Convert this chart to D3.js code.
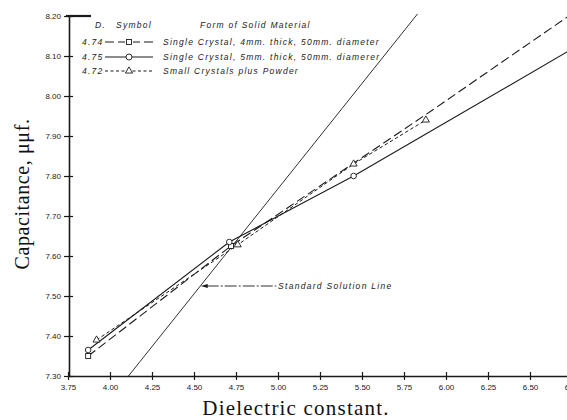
<!DOCTYPE html>
<html>
<head>
<meta charset="utf-8">
<script src="https://cdn.jsdelivr.net/npm/d3@7/dist/d3.min.js"></script>
<style>
    body { margin: 0; background: #fff; }
    svg { display: block; }
    .axis text { font-family: "Liberation Sans", Arial, sans-serif; font-size: 8px; fill: #222; }
    .legend text { font-family: "Liberation Sans", Arial, sans-serif; font-style: italic; font-size: 8.5px; letter-spacing: 1.25px; fill: #222; }
    .title { font-family: "Liberation Serif", "Times New Roman", serif; fill: #111; }
</style>
</head>
<body>
<div id="chart"></div>
<script>
// axis ticks
const xTicks = [3.75, 4.00, 4.25, 4.50, 4.75, 5.00, 5.25, 5.50, 5.75, 6.00, 6.25, 6.50, 6.75];
const yTicks = [7.30, 7.40, 7.50, 7.60, 7.70, 7.80, 7.90, 8.00, 8.10, 8.20];

// plotted symbols (dielectric constant, capacitance)
const squareX = [3.87, 4.72];
const squareY = [7.35, 7.625];
const circleX = [3.87, 4.71, 5.45];
const circleY = [7.365, 7.635, 7.80];
const triangleX = [3.92, 4.76, 5.45, 5.88];
const triangleY = [7.39, 7.628, 7.83, 7.94];

// drawn lines
const longDashX = [3.87, 4.72, 5.92, 6.72];
const longDashY = [7.35, 7.625, 7.965, 8.197];
const solidX = [3.87, 4.71, 5.45, 6.72];
const solidY = [7.365, 7.635, 7.80, 8.11];
const shortDashX = [3.92, 4.76, 5.45, 5.88];
const shortDashY = [7.39, 7.628, 7.83, 7.94];
const standardX = [4.11, 5.83];
const standardY = [7.30, 8.205];

// legend
const legendD = ["4.74", "4.75", "4.72"];
const legendForm = [
    "Single Crystal, 4mm. thick, 50mm. diameter",
    "Single Crystal, 5mm. thick, 50mm. diamerer",
    "Small Crystals plus Powder"
];

CapChart = function(_parentElement){
    this.parentElement = _parentElement;
    this.initVis();
};

CapChart.prototype.initVis = function() {
    let vis = this;

    vis.width = 567;
    vis.height = 420;

    vis.svg = d3.select(vis.parentElement)
        .append("svg")
        .attr("width", vis.width)
        .attr("height", vis.height);

    // Scales
    vis.x = d3.scaleLinear()
        .domain([3.75, 6.75])
        .range([68, 572]);
    vis.y = d3.scaleLinear()
        .domain([7.30, 8.20])
        .range([376, 16]);

    vis.ink = "#1a1a1a";

    // X Axis
    vis.xAxisCall = d3.axisBottom(vis.x)
        .tickValues(xTicks)
        .tickSize(5)
        .tickSizeOuter(0)
        .tickFormat(d3.format(".2f"));
    let xg = vis.svg.append("g")
        .attr("class", "x axis")
        .attr("transform", `translate(0,${vis.y(7.30)})`)
        .call(vis.xAxisCall);
    xg.select(".domain").attr("stroke", vis.ink).attr("stroke-width", 1.6);
    xg.selectAll(".tick line").attr("y1", -4).attr("y2", 4).attr("stroke", vis.ink).attr("stroke-width", 1.2);
    xg.selectAll(".tick text").attr("y", 8).attr("dy", "0.71em");

    // Y Axis
    vis.yAxisCall = d3.axisLeft(vis.y)
        .tickValues(yTicks)
        .tickSize(5)
        .tickSizeOuter(0)
        .tickFormat(d3.format(".2f"));
    let yg = vis.svg.append("g")
        .attr("class", "y axis")
        .attr("transform", `translate(${vis.x(3.75) + 1},0)`)
        .call(vis.yAxisCall);
    yg.select(".domain").attr("stroke", vis.ink).attr("stroke-width", 1.6);
    yg.selectAll(".tick line").attr("x1", -5).attr("x2", 4).attr("stroke", vis.ink).attr("stroke-width", 1.2);
    yg.selectAll(".tick text").attr("x", -8);
    // heavy top bar at 8.20
    yg.append("line")
        .attr("x1", -3).attr("x2", 22)
        .attr("y1", vis.y(8.20)).attr("y2", vis.y(8.20))
        .attr("stroke", vis.ink).attr("stroke-width", 2.2);

    // Lines
    vis.line = d3.line()
        .x(function (d) { return vis.x(d[0]); })
        .y(function (d) { return vis.y(d[1]); });

    let series = [
        { xs: standardX, ys: standardY, dash: null, w: 0.9 },
        { xs: longDashX, ys: longDashY, dash: "9,4", w: 1.1 },
        { xs: solidX, ys: solidY, dash: null, w: 1.1 },
        { xs: shortDashX, ys: shortDashY, dash: "3.5,2.5", w: 1.0 }
    ];
    vis.svg.append("g").selectAll("path")
        .data(series)
        .enter()
        .append("path")
        .attr("d", function (d) { return vis.line(d3.zip(d.xs, d.ys)); })
        .attr("fill", "none")
        .attr("stroke", vis.ink)
        .attr("stroke-width", function (d) { return d.w; })
        .attr("stroke-dasharray", function (d) { return d.dash; });

    // Symbols
    let marks = vis.svg.append("g")
        .attr("fill", "#fff")
        .attr("stroke", vis.ink)
        .attr("stroke-width", 0.9);
    marks.selectAll(".sq")
        .data(d3.zip(squareX, squareY))
        .enter().append("rect")
        .attr("class", "sq")
        .attr("x", function (d) { return vis.x(d[0]) - 2.5; })
        .attr("y", function (d) { return vis.y(d[1]) - 2.5; })
        .attr("width", 5).attr("height", 5);
    marks.selectAll(".ci")
        .data(d3.zip(circleX, circleY))
        .enter().append("circle")
        .attr("class", "ci")
        .attr("cx", function (d) { return vis.x(d[0]); })
        .attr("cy", function (d) { return vis.y(d[1]); })
        .attr("r", 2.8);
    let tri = d3.symbol().type(d3.symbolTriangle).size(22);
    marks.selectAll(".tr")
        .data(d3.zip(triangleX, triangleY))
        .enter().append("path")
        .attr("class", "tr")
        .attr("d", tri)
        .attr("transform", function (d) { return `translate(${vis.x(d[0])},${vis.y(d[1])})`; });

    // Standard solution annotation
    let tipX = 4.54, tipY = 7.525;
    let ann = vis.svg.append("g");
    ann.append("line")
        .attr("x1", vis.x(tipX) + 6).attr("x2", vis.x(4.99))
        .attr("y1", vis.y(tipY)).attr("y2", vis.y(tipY))
        .attr("stroke", vis.ink).attr("stroke-width", 0.9)
        .attr("stroke-dasharray", "12,2,2,2");
    ann.append("path")
        .attr("d", `M${vis.x(tipX)},${vis.y(tipY)} l7,-2 l0,4 z`)
        .attr("fill", vis.ink);
    ann.append("text")
        .attr("x", vis.x(5.0))
        .attr("y", vis.y(tipY) + 3)
        .attr("font-family", "Liberation Sans, Arial, sans-serif")
        .attr("font-style", "italic")
        .attr("font-size", "8.5px")
        .attr("letter-spacing", "1.3px")
        .attr("fill", "#222")
        .text("Standard Solution Line");

    // Legend
    let lg = vis.svg.append("g").attr("class", "legend");
    lg.append("text").attr("x", 95).attr("y", 28).text("D.");
    lg.append("text").attr("x", 116).attr("y", 28).text("Symbol");
    lg.append("text").attr("x", 200).attr("y", 28).text("Form of Solid Material");
    let rowY = [42, 57, 71];
    let dashes = ["9,4", null, "3,2.5"];
    legendD.forEach(function (dv, i) {
        let ry = rowY[i];
        lg.append("text").attr("x", 82).attr("y", ry + 3).text(dv);
        lg.append("line")
            .attr("x1", 105).attr("x2", 153)
            .attr("y1", ry).attr("y2", ry)
            .attr("stroke", vis.ink).attr("stroke-width", 1.1)
            .attr("stroke-dasharray", dashes[i]);
        let m = lg.append("g").attr("fill", "#fff").attr("stroke", vis.ink).attr("stroke-width", 0.9);
        if (i === 0) {
            m.append("rect").attr("x", 126.5).attr("y", ry - 2.5).attr("width", 5).attr("height", 5)
                .attr("stroke", "#fff").attr("stroke-width", 3);
            m.append("rect").attr("x", 126.5).attr("y", ry - 2.5).attr("width", 5).attr("height", 5);
        } else if (i === 1) {
            m.append("circle").attr("cx", 129).attr("cy", ry).attr("r", 3);
        } else {
            m.append("path").attr("d", tri).attr("transform", `translate(129,${ry})`);
        }
        lg.append("text").attr("x", 163).attr("y", ry + 3).text(legendForm[i]);
    });

    // Axis titles
    vis.svg.append("text")
        .attr("class", "title")
        .attr("transform", `translate(29,${vis.y(7.755)}) rotate(-90)`)
        .attr("text-anchor", "middle")
        .attr("font-size", "20px")
        .attr("letter-spacing", "0.6px")
        .text("Capacitance, \u03bc\u03bcf.");
    vis.svg.append("text")
        .attr("class", "title")
        .attr("x", 296)
        .attr("y", 415)
        .attr("text-anchor", "middle")
        .attr("font-size", "21px")
        .attr("letter-spacing", "1.2px")
        .text("Dielectric constant.");
};

new CapChart("#chart");
</script>
</body>
</html>
